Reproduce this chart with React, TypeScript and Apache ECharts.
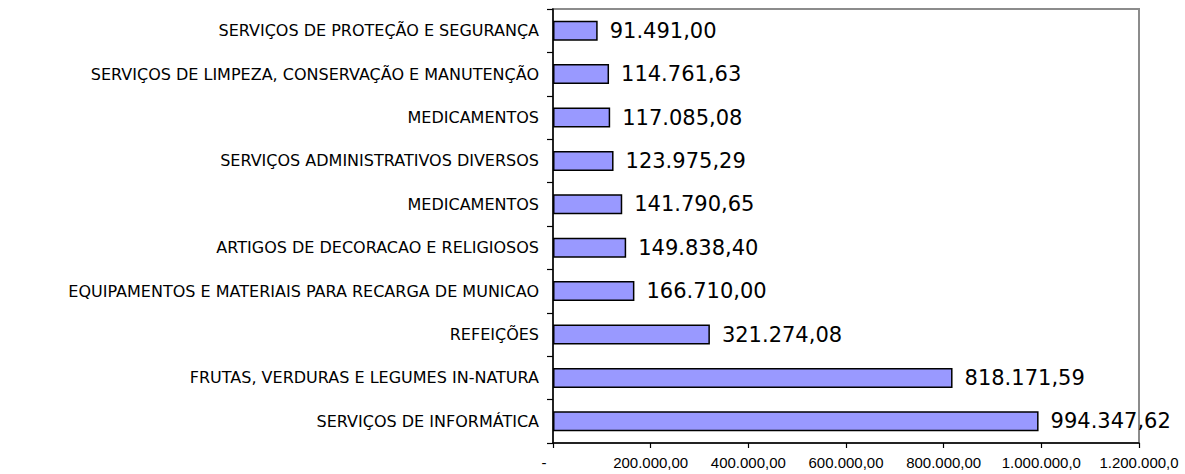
import React, { useEffect, useRef } from "react";
import * as echarts from "echarts";

const categories = [
  "SERVIÇOS DE INFORMÁTICA",
  "FRUTAS, VERDURAS E LEGUMES IN-NATURA",
  "REFEIÇÕES",
  "EQUIPAMENTOS E MATERIAIS PARA RECARGA DE MUNICAO",
  "ARTIGOS DE DECORACAO E RELIGIOSOS",
  "MEDICAMENTOS",
  "SERVIÇOS ADMINISTRATIVOS DIVERSOS",
  "MEDICAMENTOS",
  "SERVIÇOS DE LIMPEZA, CONSERVAÇÃO E MANUTENÇÃO",
  "SERVIÇOS DE PROTEÇÃO E SEGURANÇA",
];

const values = [
  994347.62, 818171.59, 321274.08, 166710.0, 149838.4, 141790.65, 123975.29,
  117085.08, 114761.63, 91491.0,
];

const xTickLabels = [
  "-",
  "200.000,00",
  "400.000,00",
  "600.000,00",
  "800.000,00",
  "1.000.000,0",
  "1.200.000,0",
];

function fmtBR(v: number): string {
  const fixed = v.toFixed(2);
  const [intPart, dec] = fixed.split(".");
  const withDots = intPart.replace(/\B(?=(\d{3})+(?!\d))/g, ".");
  return withDots + "," + dec;
}

export default function App() {
  const ref = useRef<HTMLDivElement>(null);
  useEffect(() => {
    document.body.style.margin = "0";
    if (!ref.current) return;
    const chart = echarts.init(ref.current, undefined, { renderer: "svg" });
    chart.setOption({
      animation: false,
      backgroundColor: "#ffffff",
      grid: {
        left: 553,
        right: 46,
        top: 9,
        bottom: 31,
        show: true,
        borderColor: "#8c8c8c",
        borderWidth: 2,
        backgroundColor: "transparent",
      },
      xAxis: {
        type: "value",
        min: 0,
        max: 1200000,
        interval: 200000,
        splitLine: { show: false },
        axisLine: { show: true, lineStyle: { color: "#000", width: 1.5 } },
        axisTick: { show: true, length: 5, lineStyle: { color: "#000", width: 1.2 } },
        axisLabel: {
          margin: 12,
          color: "#000",
          fontFamily: "Liberation Sans, Arial, sans-serif",
          fontSize: 15,
          formatter: (val: number) => {
            const idx = Math.round(val / 200000);
            const t = xTickLabels[idx] ?? "";
            if (idx === 0) return "{z|" + t + "}";
            return t;
          },
          rich: {
            z: {
              padding: [0, 18, 0, 0],
              fontSize: 15,
              color: "#000",
              fontFamily: "Liberation Sans, Arial, sans-serif",
            },
          },
        },
      },
      yAxis: {
        type: "category",
        data: categories,
        axisLine: { show: true, lineStyle: { color: "#000", width: 1.5 } },
        axisTick: { show: true, length: 6, lineStyle: { color: "#000", width: 1.2 } },
        axisLabel: {
          margin: 14,
          color: "#000",
          fontFamily: "DejaVu Sans, sans-serif",
          fontSize: 16,
          interval: 0,
        },
      },
      series: [
        {
          type: "bar",
          data: values,
          barWidth: 20,
          itemStyle: {
            color: "#9999ff",
            borderColor: "#000",
            borderWidth: 1.5,
          },
          label: {
            show: true,
            position: "right",
            distance: 12,
            color: "#000",
            fontFamily: "DejaVu Sans, sans-serif",
            fontSize: 21,
            formatter: (p: any) => fmtBR(p.value),
          },
        },
      ],
    });
    return () => chart.dispose();
  }, []);
  return <div ref={ref} style={{ width: 1185, height: 474 }} />;
}
